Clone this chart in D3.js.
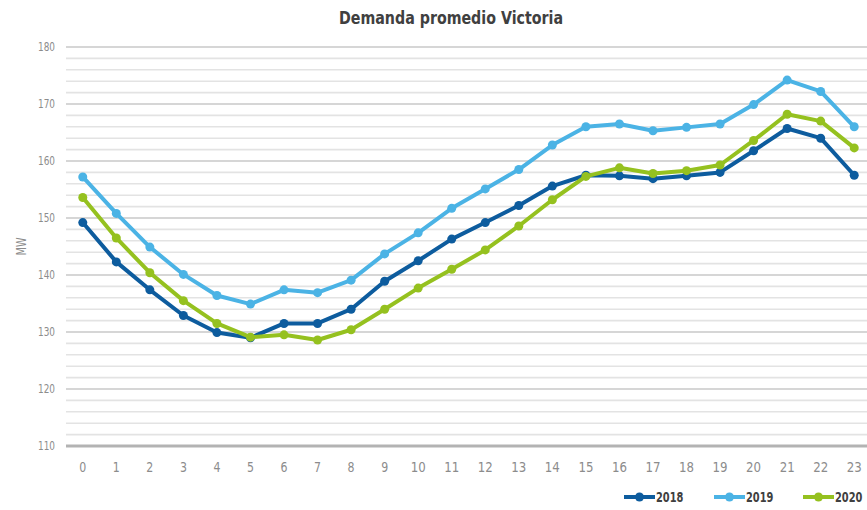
<!DOCTYPE html>
<html>
<head>
<meta charset="utf-8">
<script src="https://cdn.jsdelivr.net/npm/d3@7"></script>
<style>
  body { margin: 0; background: #fff; }
  svg text { font-family: "DejaVu Sans", sans-serif; }
</style>
</head>
<body>
<div class="chart"></div>
<script>
const hours = d3.range(0, 24)
const years = ['2018', '2019', '2020']
const colors = ['#0d5c9e', '#4bb3e5', '#95c11f']

const v2018 = [149.2, 142.3, 137.4, 132.9, 129.9, 129.0, 131.5, 131.5, 134.0, 138.9, 142.5, 146.3,
  149.2, 152.2, 155.6, 157.5, 157.4, 156.9, 157.4, 158.0, 161.8, 165.7, 164.0, 157.5]
const v2019 = [157.2, 150.8, 144.9, 140.1, 136.4, 134.9, 137.4, 136.9, 139.1, 143.7, 147.4, 151.7,
  155.1, 158.5, 162.8, 166.0, 166.5, 165.3, 165.9, 166.5, 169.9, 174.2, 172.2, 166.0]
const v2020 = [153.6, 146.5, 140.4, 135.5, 131.5, 129.1, 129.5, 128.6, 130.4, 134.0, 137.7, 141.0,
  144.4, 148.6, 153.2, 157.3, 158.8, 157.8, 158.3, 159.3, 163.6, 168.2, 167.0, 162.3]
const yTicks = [110, 120, 130, 140, 150, 160, 170, 180]

const series = [v2018, v2019, v2020]

const width = 867, height = 510
const margin = {top: 47, right: 0, bottom: 64, left: 66}

let svg = d3.select('.chart').append('svg')
  .attr('width', width)
  .attr('height', height)

let x = d3.scaleBand()
  .domain(hours)
  .range([margin.left, width - margin.right + 4])

let y = d3.scaleLinear()
  .domain([110, 180])
  .range([height - margin.bottom, margin.top])

// grid lines, every 2 MW, darker at each ten
let grid = svg.append('g')
grid.selectAll('line')
  .data(d3.range(112, 181, 2))
  .enter()
  .append('line')
  .attr('x1', margin.left)
  .attr('x2', width)
  .attr('y1', d => y(d))
  .attr('y2', d => y(d))
  .attr('stroke', d => d % 10 === 0 ? '#c9c9c9' : '#e3e3e3')
  .attr('stroke-width', 1.6)

svg.append('line')
  .attr('x1', margin.left)
  .attr('x2', width)
  .attr('y1', y(110))
  .attr('y2', y(110))
  .attr('stroke', '#b3b3b3')
  .attr('stroke-width', 3)

// y tick labels (squeezed a little, the original face is condensed)
svg.append('g').selectAll('text')
  .data(yTicks)
  .enter()
  .append('text')
  .attr('x', 55)
  .attr('y', d => y(d))
  .attr('dy', '0.35em')
  .attr('text-anchor', 'end')
  .attr('fill', '#8c8c8c')
  .attr('font-size', 12)
  .attr('textLength', 17)
  .attr('lengthAdjust', 'spacingAndGlyphs')
  .text(d => d)

// x tick labels
svg.append('g').selectAll('text')
  .data(hours)
  .enter()
  .append('text')
  .attr('x', d => x(d) + x.bandwidth() / 2)
  .attr('y', 472)
  .attr('text-anchor', 'middle')
  .attr('fill', '#8c8c8c')
  .attr('font-size', 13.5)
  .attr('textLength', d => d < 10 ? 7 : 15)
  .attr('lengthAdjust', 'spacingAndGlyphs')
  .text(d => d)

svg.append('text')
  .attr('transform', 'translate(26,' + y(145) + ') rotate(-90)')
  .attr('text-anchor', 'middle')
  .attr('fill', '#8c8c8c')
  .attr('font-size', 14)
  .attr('textLength', 18)
  .attr('lengthAdjust', 'spacingAndGlyphs')
  .text('MW')

svg.append('text')
  .attr('x', 451)
  .attr('y', 24)
  .attr('text-anchor', 'middle')
  .attr('fill', '#404040')
  .attr('font-size', 18)
  .attr('font-weight', 'bold')
  .attr('textLength', 224)
  .attr('lengthAdjust', 'spacingAndGlyphs')
  .text('Demanda promedio Victoria')

let line = d3.line()
  .x((d, i) => x(hours[i]) + x.bandwidth() / 2)
  .y(d => y(d))

series.forEach((values, k) => {
  let g = svg.append('g')
  g.append('path')
    .datum(values)
    .attr('d', line)
    .attr('fill', 'none')
    .attr('stroke', colors[k])
    .attr('stroke-width', 4)
    .attr('stroke-linejoin', 'round')
  g.selectAll('circle')
    .data(values)
    .enter()
    .append('circle')
    .attr('cx', (d, i) => x(hours[i]) + x.bandwidth() / 2)
    .attr('cy', d => y(d))
    .attr('r', 4.5)
    .attr('fill', colors[k])
})

// legend
const legendX = [624, 714, 803]
let legend = svg.append('g').selectAll('g')
  .data(years)
  .enter()
  .append('g')
  .attr('transform', (d, i) => 'translate(' + legendX[i] + ',497)')

legend.append('line')
  .attr('x1', 0)
  .attr('x2', 31)
  .attr('stroke', (d, i) => colors[i])
  .attr('stroke-width', 4)
legend.append('circle')
  .attr('cx', 15.5)
  .attr('r', 4.5)
  .attr('fill', (d, i) => colors[i])
// condensed look by scaling the text horizontally
legend.append('text')
  .attr('transform', 'translate(32,0) scale(0.68,1)')
  .attr('dy', '0.36em')
  .attr('fill', '#404040')
  .attr('font-size', 14.5)
  .attr('font-weight', 'bold')
  .text(d => d)
</script>
</body>
</html>
